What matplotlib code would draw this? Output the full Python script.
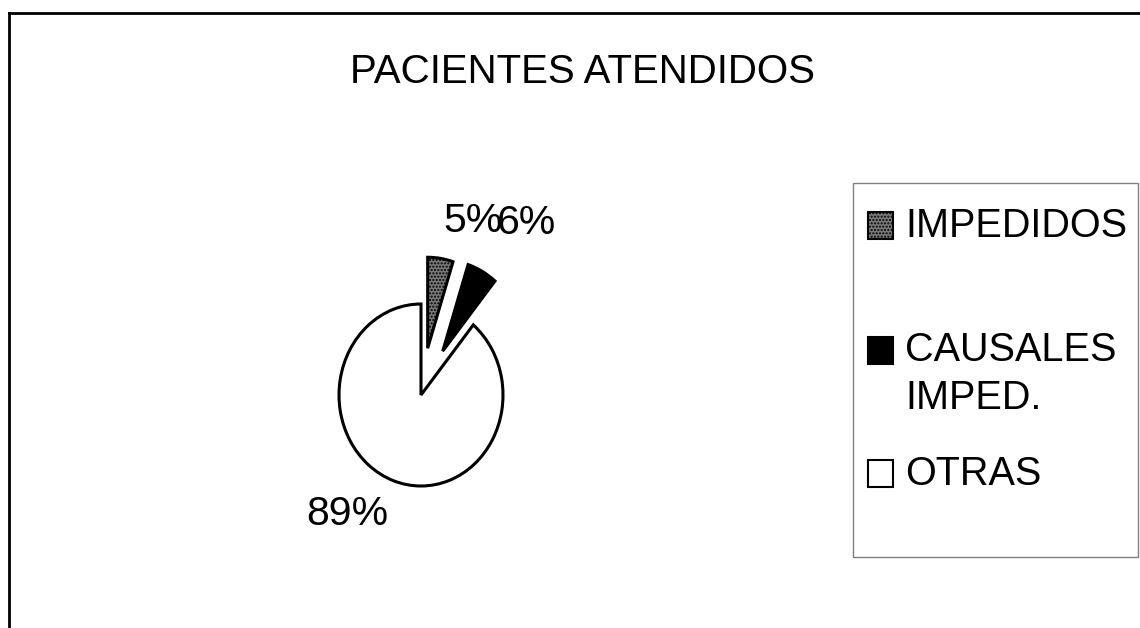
import math
import matplotlib
matplotlib.use("Agg")
import matplotlib.pyplot as plt
from matplotlib.patches import Rectangle
from matplotlib.lines import Line2D

plt.rcParams['font.family'] = ['Liberation Sans', 'DejaVu Sans']

# data
categories = ['IMPEDIDOS', 'CAUSALES\nIMPED.', 'OTRAS']
shares = [5, 6, 89]
pct_labels = ['5%', '6%', '89%']
title = 'PACIENTES ATENDIDOS'

W, H = 1140, 628
fig = plt.figure(figsize=(W / 100, H / 100), dpi=100)
fig.patch.set_facecolor('white')

def fx(px):
    return px / W

def fy(py):  # py measured from the top of the picture
    return 1 - py / H

# pie axes: 82 px per unit across, 91 px per unit up (scan is a bit tall)
cx, cy = 421, 395
ax = fig.add_axes([fx(cx - 1.5 * 82), fy(cy + 1.6 * 91), 3 * 82 / W, 3.2 * 91 / H])

face = ['#7a7a7a', 'black', 'white']
explode = [0.52, 0.55, 0]
wedges, texts = ax.pie(shares, explode=explode, labels=pct_labels,
                       colors=face, startangle=90, counterclock=False,
                       wedgeprops=dict(edgecolor='black', linewidth=2.2),
                       textprops=dict(fontsize=29.5))
wedges[0].set_hatch('.....')
ax.set_aspect('auto')
ax.set_xlim(-1.5, 1.5)
ax.set_ylim(-1.6, 1.6)

# label distance from each (exploded) wedge centre, in radii
label_dist = [1.2, 1.37, 1.17]
for w, t, d in zip(wedges, texts, label_dist):
    ang = math.radians((w.theta1 + w.theta2) / 2)
    x0, y0 = w.center
    xt = x0 + d * w.r * math.cos(ang)
    yt = y0 + d * w.r * math.sin(ang)
    t.set_position((xt, yt))
    t.set_ha('left' if xt > 0 else 'right')
    t.set_va('bottom' if yt > 0 else 'top')

fig.text(fx(582), fy(83), title, ha='center', va='baseline', fontsize=29)

# legend box drawn like the original
fig.add_artist(Rectangle((fx(853), fy(557)), fx(1138) - fx(853), fy(183) - fy(557),
                         transform=fig.transFigure, facecolor='none',
                         edgecolor='#808080', linewidth=1))
rows = [237, 362, 485]   # baseline of the first line of each entry
line_px = 47
for lab, col, w, base in zip(categories, face, wedges, rows):
    sq = Rectangle((fx(868), fy(base + 2)), 25 / W, 27 / H, transform=fig.transFigure,
                   facecolor=col, edgecolor='black', linewidth=1.5,
                   hatch=w.get_hatch())
    fig.add_artist(sq)
    last = base + line_px * lab.count('\n')
    fig.text(fx(905), fy(last), lab, ha='left', va='baseline', fontsize=28.5,
             linespacing=1.34)

# page frame (top and left edge only are visible)
fig.add_artist(Line2D([fx(9), 1], [fy(13), fy(13)], transform=fig.transFigure,
                      color='black', linewidth=2))
fig.add_artist(Line2D([fx(9), fx(9)], [fy(13), 0], transform=fig.transFigure,
                      color='black', linewidth=2))

fig.savefig('out.png', dpi=100)
